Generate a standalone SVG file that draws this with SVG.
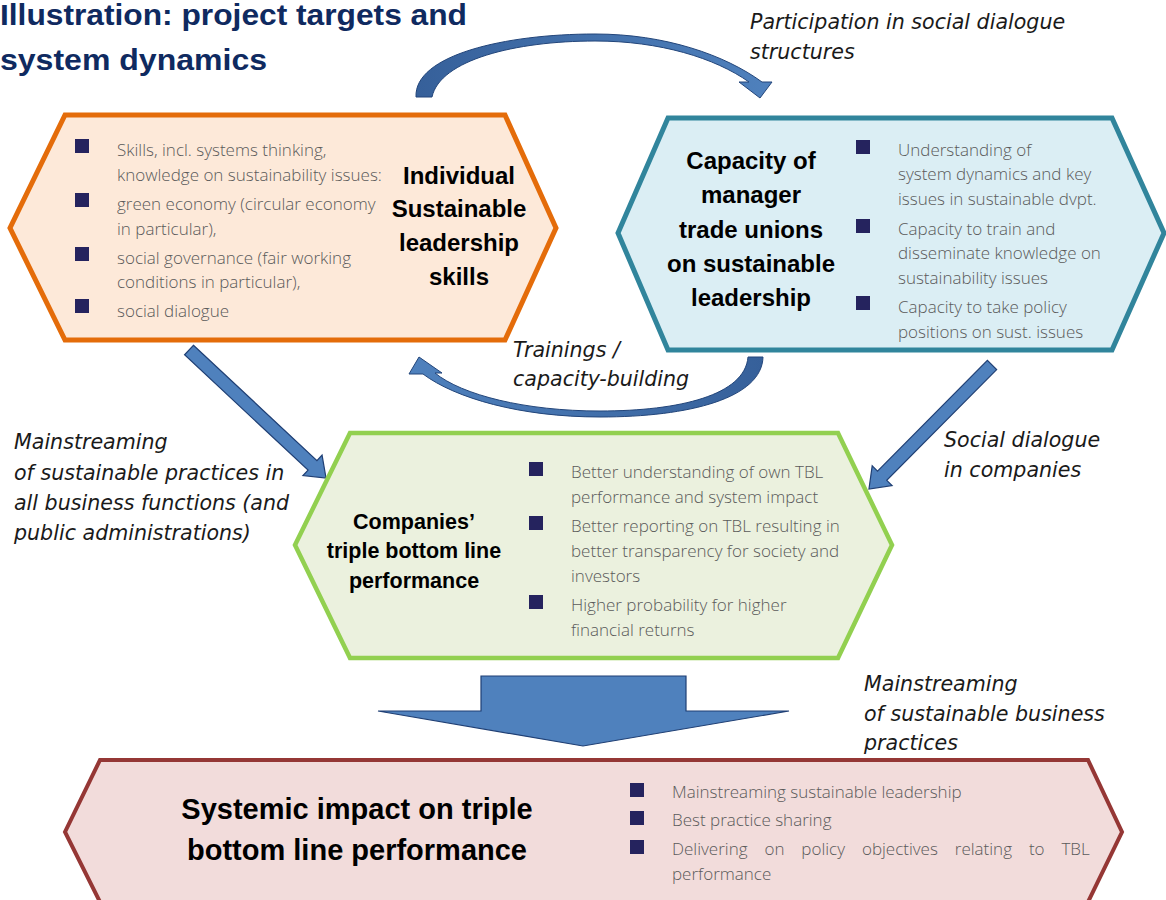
<svg xmlns="http://www.w3.org/2000/svg" width="1166" height="900" viewBox="0 0 1166 900">
  <defs>
    <linearGradient id="gradTop" x1="0" y1="0" x2="1" y2="0">
      <stop offset="0" stop-color="#36609a"/>
      <stop offset="1" stop-color="#4f81bd"/>
    </linearGradient>
    <linearGradient id="gradBottom" x1="1" y1="0" x2="0" y2="0">
      <stop offset="0" stop-color="#36609a"/>
      <stop offset="1" stop-color="#4f81bd"/>
    </linearGradient>
    <style>
      .title { font-family: "Liberation Sans", Arial, sans-serif; font-weight: bold; font-size: 30px; fill: #0f2a60; }
      .head { font-family: "Liberation Sans", Arial, sans-serif; font-weight: bold; fill: #000000; text-anchor: middle; }
      .item { font-family: "Open Sans", "Noto Sans", sans-serif; font-weight: 300; font-size: 17px; fill: #5a5a5a; }
      .note { font-family: "DejaVu Sans", sans-serif; font-style: italic; font-size: 20.6px; fill: #1a1a1a; }
      .bullet { fill: #25235e; }
      .arrow { fill: #4f81bd; stroke: #1f3f74; stroke-width: 1.2; stroke-linejoin: miter; }
      .curve { stroke: #22457a; stroke-width: 1; }
    </style>
  </defs>

  <rect width="1166" height="900" fill="#ffffff"/>

  <!-- heading -->
  <g id="title">
    <text class="title" x="0" y="25" textLength="467" lengthAdjust="spacingAndGlyphs">Illustration: project targets and</text>
    <text class="title" x="0" y="70" textLength="267" lengthAdjust="spacingAndGlyphs">system dynamics</text>
  </g>

  <!-- connectors -->
  <g id="connectors">
    <!-- curved arrow: individual skills -> trade union capacity -->
    <path class="curve" fill="url(#gradTop)" d="M 416,97 C 414,55 505,34 595,34 C 665,34 725,55 762,82 L 772,82 L 760,98 L 739,82 L 749,82 C 715,58 660,41 595,41 C 515,41 440,60 432,97 Z"/>
    <!-- curved arrow: trade union capacity -> individual skills -->
    <path class="curve" fill="url(#gradBottom)" d="M 763,357 C 762,398 690,417 600,417 C 520,417 455,398 423,374 L 409,374 L 419,357 L 442,373 L 435,373 C 462,395 525,411 600,411 C 680,411 745,395 748,357 Z"/>
    <!-- diagonal arrows into the companies node -->
    <polygon class="arrow" transform="translate(189,350) rotate(43.05)" points="0,-6.5 169,-6.5 169,-14 187.5,0 169,14 169,6.5 0,6.5"/>
    <polygon class="arrow" transform="translate(992,365) rotate(134.77)" points="0,-6.5 156,-6.5 156,-14 174.7,0 156,14 156,6.5 0,6.5"/>
    <!-- block arrow down to systemic impact -->
    <polygon class="arrow" points="481,676 686,676 686,711 789,711 583,746 378,711 481,711"/>
  </g>

  <!-- connector labels -->
  <g id="labels">
    <text class="note" x="750" y="29">Participation in social dialogue</text>
    <text class="note" x="750" y="59">structures</text>
    <text class="note" x="513" y="357">Trainings /</text>
    <text class="note" x="513" y="386">capacity-building</text>
    <text class="note" x="14" y="449">Mainstreaming</text>
    <text class="note" x="14" y="480">of sustainable practices in</text>
    <text class="note" x="14" y="510">all business functions (and</text>
    <text class="note" x="14" y="540">public administrations)</text>
    <text class="note" x="944" y="447">Social dialogue</text>
    <text class="note" x="944" y="477">in companies</text>
    <text class="note" x="864" y="691">Mainstreaming</text>
    <text class="note" x="864" y="721">of sustainable business</text>
    <text class="note" x="864" y="750">practices</text>
  </g>

  <!-- node: individual sustainable leadership skills -->
  <g id="node-individual">
    <polygon points="65,115 505,115 556,228 505,340 65,340 10,228" fill="#fde9d9" stroke="#e46c0a" stroke-width="5" stroke-linejoin="miter"/>
    <rect class="bullet" x="75" y="139" width="14" height="14"/>
    <rect class="bullet" x="75" y="193" width="14" height="14"/>
    <rect class="bullet" x="75" y="247" width="14" height="14"/>
    <rect class="bullet" x="75" y="299" width="14" height="14"/>
    <text class="item" x="117" y="156">Skills, incl. systems thinking,</text>
    <text class="item" x="117" y="181">knowledge on sustainability issues:</text>
    <text class="item" x="117" y="210">green economy (circular economy</text>
    <text class="item" x="117" y="235">in particular),</text>
    <text class="item" x="117" y="264">social governance (fair working</text>
    <text class="item" x="117" y="288">conditions in particular),</text>
    <text class="item" x="117" y="317">social dialogue</text>
    <text class="head" font-size="24" x="459" y="184">Individual</text>
    <text class="head" font-size="24" x="459" y="217">Sustainable</text>
    <text class="head" font-size="24" x="459" y="251">leadership</text>
    <text class="head" font-size="24" x="459" y="285">skills</text>
  </g>

  <!-- node: capacity of manager / trade unions -->
  <g id="node-capacity">
    <polygon points="668,118 1112,118 1164,233 1112,350 668,350 618,233" fill="#dbeef4" stroke="#31859c" stroke-width="5" stroke-linejoin="miter"/>
    <text class="head" font-size="24" x="751" y="169">Capacity of</text>
    <text class="head" font-size="24" x="751" y="203">manager</text>
    <text class="head" font-size="24" x="751" y="238">trade unions</text>
    <text class="head" font-size="24" x="751" y="272">on sustainable</text>
    <text class="head" font-size="24" x="751" y="306">leadership</text>
    <rect class="bullet" x="856" y="140" width="14" height="14"/>
    <rect class="bullet" x="856" y="219" width="14" height="14"/>
    <rect class="bullet" x="856" y="296" width="14" height="14"/>
    <text class="item" x="898" y="156">Understanding of</text>
    <text class="item" x="898" y="180">system dynamics and key</text>
    <text class="item" x="898" y="205">issues in sustainable dvpt.</text>
    <text class="item" x="898" y="235">Capacity to train and</text>
    <text class="item" x="898" y="259">disseminate knowledge on</text>
    <text class="item" x="898" y="284">sustainability issues</text>
    <text class="item" x="898" y="313">Capacity to take policy</text>
    <text class="item" x="898" y="338">positions on sust. issues</text>
  </g>

  <!-- node: companies' triple bottom line performance -->
  <g id="node-companies">
    <polygon points="350,433 838,433 892,545 838,658 350,658 295,545" fill="#ebf1de" stroke="#92d050" stroke-width="4.5" stroke-linejoin="miter"/>
    <text class="head" font-size="21.5" x="414" y="529">Companies’</text>
    <text class="head" font-size="21.5" x="414" y="558">triple bottom line</text>
    <text class="head" font-size="21.5" x="414" y="588">performance</text>
    <rect class="bullet" x="529" y="462" width="14" height="14"/>
    <rect class="bullet" x="529" y="516" width="14" height="14"/>
    <rect class="bullet" x="529" y="595" width="14" height="14"/>
    <text class="item" x="571" y="478">Better understanding of own TBL</text>
    <text class="item" x="571" y="503">performance and system impact</text>
    <text class="item" x="571" y="532">Better reporting on TBL resulting in</text>
    <text class="item" x="571" y="557">better transparency for society and</text>
    <text class="item" x="571" y="582">investors</text>
    <text class="item" x="571" y="611">Higher probability for higher</text>
    <text class="item" x="571" y="636">financial returns</text>
  </g>

  <!-- node: systemic impact -->
  <g id="node-systemic">
    <polygon points="100,760 1088,760 1122,832 1088,902 100,902 65,832" fill="#f2dcdb" stroke="#953735" stroke-width="4" stroke-linejoin="miter"/>
    <text class="head" font-size="29" x="357" y="819">Systemic impact on triple</text>
    <text class="head" font-size="29" x="357" y="860">bottom line performance</text>
    <rect class="bullet" x="630" y="783" width="14" height="14"/>
    <rect class="bullet" x="630" y="811" width="14" height="14"/>
    <rect class="bullet" x="630" y="840" width="14" height="14"/>
    <text class="item" x="672" y="798">Mainstreaming sustainable leadership</text>
    <text class="item" x="672" y="826">Best practice sharing</text>
    <text class="item" x="672" y="855" word-spacing="12.5">Delivering on policy objectives relating to TBL</text>
    <text class="item" x="672" y="880">performance</text>
  </g>
</svg>
